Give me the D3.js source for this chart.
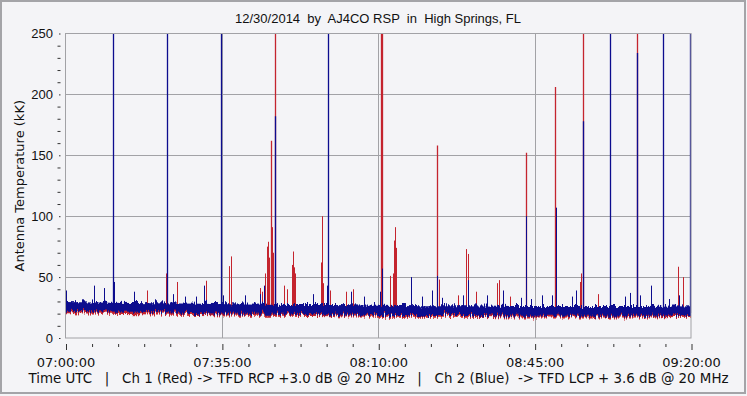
<!DOCTYPE html>
<html>
<head>
<meta charset="utf-8">
<script src="https://cdn.jsdelivr.net/npm/d3@7"></script>
<style>
  body { margin: 0; background: #f4f4f7; }
  text { white-space: pre; }
</style>
</head>
<body>
<div id="chart"></div>
<script>
// minutes after 07:00 UTC
const bandTimes   = [0, 10, 20, 30, 40, 50, 60, 70, 80, 90, 100, 110, 120, 130, 140];
const blueBandHi  = [32, 31.5, 31, 30.5, 30, 29.5, 29.5, 29, 28.5, 28.5, 28, 28, 28, 28, 28.5];
const blueBandLo  = [24, 23.5, 23, 22, 21.5, 21.5, 21, 20.5, 20.5, 20.5, 20, 20, 20, 20, 20.5];
const redBandHi   = [29, 28.5, 28, 27.5, 27, 27, 26.5, 26, 26, 25.5, 25.5, 25.5, 25.5, 25.5, 26];
const redBandLo   = [22, 21.5, 21, 20.5, 20, 20, 19.5, 19, 19, 19, 18.5, 18.5, 18.5, 18.5, 19];

// [minute, kK] peaks (260 = off the top)
const redSpikes = [
  [18.26, 39], [22.45, 53], [24.98, 46], [31.4, 47], [36.62, 59], [37.0, 67],
  [43.49, 41], [43.87, 38], [44.67, 53], [44.99, 75], [45.35, 79], [45.65, 66],
  [45.95, 162], [46.28, 91], [46.4, 70], [46.95, 260], [48.93, 43], [49.64, 40],
  [50.65, 60], [50.94, 71], [51.2, 58], [51.43, 53], [57.25, 62], [57.43, 100],
  [57.74, 45], [59.22, 39], [62.74, 38], [64.46, 40], [70.6, 260], [70.9, 260],
  [72.7, 51], [73.41, 53], [73.52, 80], [73.7, 91], [73.93, 74], [83.04, 158],
  [83.62, 48], [87.87, 35], [89.59, 61], [89.75, 73], [90.04, 69], [91.99, 38],
  [96.6, 45], [97.05, 47.5], [99.6, 34], [103.09, 152], [109.67, 206], [115.1, 46],
  [115.49, 53], [115.85, 260], [119.2, 36], [127.93, 260], [137.11, 58.5], [138.23, 50]
];
const blueSpikes = [
  [0.07, 39], [6.4, 43], [8.64, 41], [10.7, 260], [10.9, 46], [15.35, 38], [22.74, 260],
  [23.95, 36], [26.7, 34], [29.16, 34], [31.0, 43], [34.8, 260], [35.27, 35],
  [40.13, 35], [43.64, 36], [44.54, 43], [46.91, 182], [55.42, 36], [58.48, 43],
  [58.86, 260], [64.01, 38], [66.83, 34], [70.35, 38], [70.9, 57], [77.22, 50],
  [79.81, 34], [82.05, 39], [83.04, 51], [84.29, 33], [88.99, 35], [90.11, 47.5],
  [94.23, 35], [97.81, 39], [102.06, 33], [103.09, 100], [104.3, 32], [106.54, 35],
  [108.78, 35], [109.68, 107], [113.26, 34], [114.15, 39], [115.85, 178], [121.93, 260],
  [125.24, 34], [126.3, 37], [127.93, 234], [128.69, 35], [131.15, 43], [133.75, 260],
  [135.03, 32], [137.34, 35], [139.88, 260]
];

const xTickValues = [0, 35, 70, 105, 140];
const xTickLabels = ['07:00:00', '07:35:00', '08:10:00', '08:45:00', '09:20:00'];
const yTickValues = [0, 50, 100, 150, 200, 250];

const svgWidth = 747;
const svgHeight = 396;
const plot = { left: 65.5, right: 691, top: 33.5, bottom: 338 };
const red = '#c4242e';
const blue = '#0c0c8e';
const grey = '#a2a2a6';

const svg = d3.select('#chart')
  .append('svg')
  .attr('width', svgWidth)
  .attr('height', svgHeight);

// outer frame
svg.append('rect')
  .attr('x', 1).attr('y', 1)
  .attr('width', 744).attr('height', 392)
  .attr('fill', '#f4f4f7')
  .attr('stroke', '#a4a4a8')
  .attr('stroke-width', 2);

// scales
const x = d3.scaleLinear().domain([0, 140]).range([plot.left, plot.right]);
const y = d3.scaleLinear().domain([0, 250]).range([plot.bottom, plot.top]);

// clip + jagged-edge filter for the noise floor
const defs = svg.append('defs');
defs.append('clipPath').attr('id', 'plotclip')
  .append('rect')
  .attr('x', plot.left).attr('y', plot.top)
  .attr('width', plot.right - plot.left + 1).attr('height', plot.bottom - plot.top);

const filt = defs.append('filter').attr('id', 'rough')
  .attr('x', '-1%').attr('y', '-40%').attr('width', '102%').attr('height', '180%');
filt.append('feTurbulence')
  .attr('type', 'turbulence').attr('baseFrequency', '0.9 0.03')
  .attr('numOctaves', 2).attr('seed', 3).attr('result', 't');
filt.append('feColorMatrix')
  .attr('in', 't').attr('type', 'matrix')
  .attr('values', '1 0 0 0 0  0 0 0 0 0.5  0 0 0 0 0.5  0 0 0 0 1')
  .attr('result', 'm');
filt.append('feDisplacementMap')
  .attr('in', 'SourceGraphic').attr('in2', 'm')
  .attr('scale', 9).attr('xChannelSelector', 'G').attr('yChannelSelector', 'R');

// grid
const grid = svg.append('g');
grid.selectAll('.hgrid')
  .data([50, 100, 150, 200])
  .enter().append('line')
  .attr('x1', plot.left).attr('x2', plot.right)
  .attr('y1', d => Math.round(y(d)) + 0.5).attr('y2', d => Math.round(y(d)) + 0.5)
  .attr('stroke', grey);
grid.selectAll('.vgrid')
  .data([35, 70, 105])
  .enter().append('line')
  .attr('y1', plot.top).attr('y2', plot.bottom)
  .attr('x1', d => Math.round(x(d)) + 0.5).attr('x2', d => Math.round(x(d)) + 0.5)
  .attr('stroke', grey);

const chart = svg.append('g').attr('clip-path', 'url(#plotclip)');

function drawChannel(hi, lo, spikes, color) {
  const hiS = d3.scaleLinear().domain(bandTimes).range(hi);
  const loS = d3.scaleLinear().domain(bandTimes).range(lo);
  const band = d3.area()
    .x(d => x(d))
    .y0(d => y(loS(d)))
    .y1(d => y(hiS(d)));
  chart.append('path')
    .datum(bandTimes)
    .attr('d', band)
    .attr('fill', color)
    .attr('filter', 'url(#rough)');
  chart.selectAll(null)
    .data(spikes)
    .enter().append('line')
    .attr('x1', d => Math.round(x(d[0])) + 0.5)
    .attr('x2', d => Math.round(x(d[0])) + 0.5)
    .attr('y1', d => y(loS(d[0])))
    .attr('y2', d => y(d[1]))
    .attr('stroke', color)
    .attr('stroke-width', d => d[1] > 150 ? 1.3 : 1);
}

drawChannel(redBandHi, redBandLo, redSpikes, red);
drawChannel(blueBandHi, blueBandLo, blueSpikes, blue);

// plot border
svg.append('rect')
  .attr('x', plot.left).attr('y', plot.top)
  .attr('width', plot.right - plot.left).attr('height', plot.bottom - plot.top)
  .attr('fill', 'none')
  .attr('stroke', grey);

// y axis: minor dashes + major dots with labels
const yMinor = svg.append('g')
  .attr('transform', 'translate(60.5,0)')
  .call(d3.axisLeft(y).tickValues(d3.range(10, 250, 10).filter(v => v % 50 !== 0)).tickSize(3).tickFormat(''));
const yMajor = svg.append('g')
  .attr('transform', 'translate(60.5,0)')
  .call(d3.axisLeft(y).tickValues(yTickValues).tickSize(1.5).tickPadding(6));
[yMinor, yMajor].forEach(g => {
  g.select('.domain').remove();
  g.selectAll('line').attr('stroke', '#333');
});
yMajor.selectAll('text')
  .attr('font-family', '"Liberation Sans", Arial, sans-serif')
  .attr('font-size', 13)
  .attr('fill', '#111');

// x axis
const xMinor = svg.append('g')
  .attr('transform', `translate(0,${plot.bottom + 6})`)
  .call(d3.axisBottom(x).tickValues(d3.range(0, 141, 35 / 6).filter((v, i) => i % 6 !== 0)).tickSize(3).tickFormat(''));
const xMajor = svg.append('g')
  .attr('transform', `translate(0,${plot.bottom + 6})`)
  .call(d3.axisBottom(x).tickValues(xTickValues).tickSize(6).tickPadding(8)
    .tickFormat((d, i) => xTickLabels[i]));
[xMinor, xMajor].forEach(g => {
  g.select('.domain').remove();
  g.selectAll('line').attr('stroke', '#333').attr('transform', 'translate(0.5,0)');
});
xMajor.selectAll('text')
  .attr('font-family', '"DejaVu Sans", Verdana, sans-serif')
  .attr('font-size', 13)
  .attr('fill', '#111');

// titles
svg.append('text')
  .attr('x', 378).attr('y', 23)
  .attr('text-anchor', 'middle')
  .attr('font-family', '"Liberation Sans", Arial, sans-serif')
  .attr('font-size', 13)
  .attr('fill', '#111')
  .text('12/30/2014  by  AJ4CO RSP  in  High Springs, FL');

svg.append('text')
  .attr('transform', `translate(24,${(plot.top + plot.bottom) / 2}) rotate(-90)`)
  .attr('text-anchor', 'middle')
  .attr('font-family', '"DejaVu Sans", Verdana, sans-serif')
  .attr('font-size', 13)
  .attr('fill', '#111')
  .text('Antenna Temperature (kK)');

svg.append('text')
  .attr('x', 378.5).attr('y', 383)
  .attr('text-anchor', 'middle')
  .attr('font-family', '"DejaVu Sans", Verdana, sans-serif')
  .attr('font-size', 13.4)
  .attr('fill', '#111')
  .text('Time UTC   |   Ch 1 (Red) -> TFD RCP +3.0 dB @ 20 MHz   |   Ch 2 (Blue)  -> TFD LCP + 3.6 dB @ 20 MHz');
</script>
</body>
</html>
